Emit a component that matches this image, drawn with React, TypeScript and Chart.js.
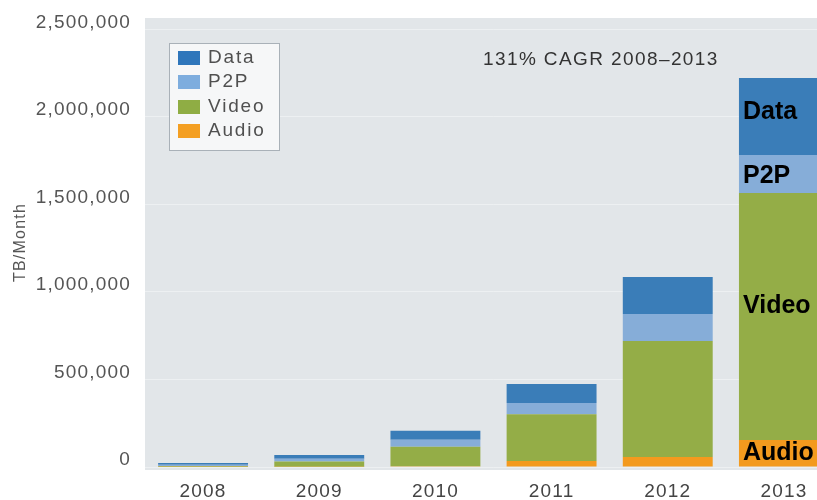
import React, { useEffect, useRef } from 'react';
import { Chart, registerables } from 'chart.js';

Chart.register(...registerables);

// ---- data ----
const categories = ['2008', '2009', '2010', '2011', '2012', '2013'];
const audioValues = [1000, 2000, 4000, 34000, 57000, 154000];
const videoValues = [4000, 30000, 112000, 268000, 663000, 1411000];
const p2pValues = [8000, 15000, 40000, 63000, 154000, 217000];
const dataValues = [10000, 22000, 51000, 109000, 211000, 440000];
const seriesLabels = ['Audio', 'Video', 'P2P', 'Data'];
const yTicks = [0, 500000, 1000000, 1500000, 2000000, 2500000];
const annotationText = '131% CAGR 2008\u20132013';
const yTitle = 'TB/Month';

const seriesColors = ['#f39a1e', '#94ad47', '#86add8', '#3a7db8'];
const legendColors = ['#f49f22', '#8fad44', '#7eadde', '#2f76bb'];
const FONT = '"Liberation Sans", Arial, Helvetica, sans-serif';

const decor = {
  id: 'decor',
  beforeDraw(chart: any) {
    const { ctx, chartArea: a } = chart;
    ctx.save();
    ctx.fillStyle = '#e2e6e9';
    ctx.fillRect(a.left, a.top, chart.width - a.left, a.bottom - a.top + 3);
    ctx.restore();
    ctx.letterSpacing = '1.2px';
  },
  afterDatasetsDraw(chart: any) {
    const ctx = chart.ctx;
    ctx.save();
    // legend box
    ctx.fillStyle = '#f6f7f8';
    ctx.fillRect(169, 43, 110, 108);
    ctx.strokeStyle = '#a9b1b8';
    ctx.lineWidth = 1;
    ctx.strokeRect(169.5, 43.5, 110, 107);
    const n = chart.data.datasets.length;
    for (let k = 0; k < n; k++) {
      const i = n - 1 - k;
      const d = chart.data.datasets[i];
      const y = Math.round(51 + k * 24.3);
      ctx.fillStyle = legendColors[i];
      ctx.fillRect(178, y, 22, 14);
      ctx.fillStyle = '#505050';
      ctx.font = `19px ${FONT}`;
      ctx.textAlign = 'left';
      ctx.textBaseline = 'middle';
      ctx.letterSpacing = '1.8px';
      ctx.fillText(d.label, 208, y + 7);
    }
    // annotation
    ctx.fillStyle = '#333';
    ctx.font = `19px ${FONT}`;
    ctx.letterSpacing = '1.4px';
    ctx.fillText(annotationText, 483, 60);
    // labels on last bar
    const last = categories.length - 1;
    const offsets = [0, -10, 2, -4];
    ctx.font = `bold 25px ${FONT}`;
    ctx.letterSpacing = '0px';
    ctx.fillStyle = '#000';
    chart.data.datasets.forEach((d: any, i: number) => {
      const el = chart.getDatasetMeta(i).data[last];
      const p = el.getProps(['x', 'y', 'base', 'width'], true);
      ctx.fillText(d.label, p.x - p.width / 2 + 4, (p.y + p.base) / 2 + offsets[i]);
    });
    ctx.restore();
  },
  afterDraw(chart: any) {
    chart.ctx.letterSpacing = '0px';
  },
};

export default function App() {
  const ref = useRef<HTMLCanvasElement | null>(null);
  useEffect(() => {
    if (!ref.current) return;
    const values = [audioValues, videoValues, p2pValues, dataValues];
    const chart = new Chart(ref.current, {
      type: 'bar',
      data: {
        labels: categories,
        datasets: seriesLabels.map((label, i) => ({
          label,
          data: values[i],
          backgroundColor: seriesColors[i],
          borderWidth: 0,
          barPercentage: 0.774,
          categoryPercentage: 1,
        })),
      },
      options: {
        responsive: false,
        devicePixelRatio: 1,
        animation: false,
        layout: { padding: { top: 18, right: 8, left: 0, bottom: 0 } },
        plugins: { legend: { display: false }, tooltip: { enabled: false } },
        scales: {
          x: {
            stacked: true,
            grid: { display: false },
            border: { display: false },
            ticks: {
              color: '#444',
              font: { family: FONT, size: 19 },
              padding: 5,
              maxRotation: 0,
              autoSkip: false,
            },
            afterFit: (s: any) => {
              s.height = 33;
              s.paddingLeft = 0;
              s.paddingRight = 0;
            },
          },
          y: {
            stacked: true,
            min: 0,
            max: 2565000,
            grid: { color: 'rgba(255,255,255,0.4)', drawTicks: false, lineWidth: 1 },
            border: { display: false },
            ticks: {
              color: '#555',
              font: { family: FONT, size: 19 },
              padding: 14,
              labelOffset: -7,
              callback: (v: any) => Number(v).toLocaleString('en-US'),
            },
            afterBuildTicks: (s: any) => {
              s.ticks = yTicks.map((v) => ({ value: v }));
            },
            afterFit: (s: any) => {
              s.width = 145;
              s.paddingTop = 0;
              s.paddingBottom = 0;
            },
            title: {
              display: true,
              text: yTitle,
              color: '#555',
              font: { family: FONT, size: 16 },
              padding: { top: 11, bottom: 0 },
            },
          },
        },
      },
      plugins: [decor],
    });
    return () => chart.destroy();
  }, []);
  return (
    <div style={{ position: 'fixed', left: 0, top: 0, width: 817, height: 500, overflow: 'hidden', background: '#fff' }}>
      <canvas ref={ref} width={850} height={500} style={{ display: 'block' }} />
    </div>
  );
}
